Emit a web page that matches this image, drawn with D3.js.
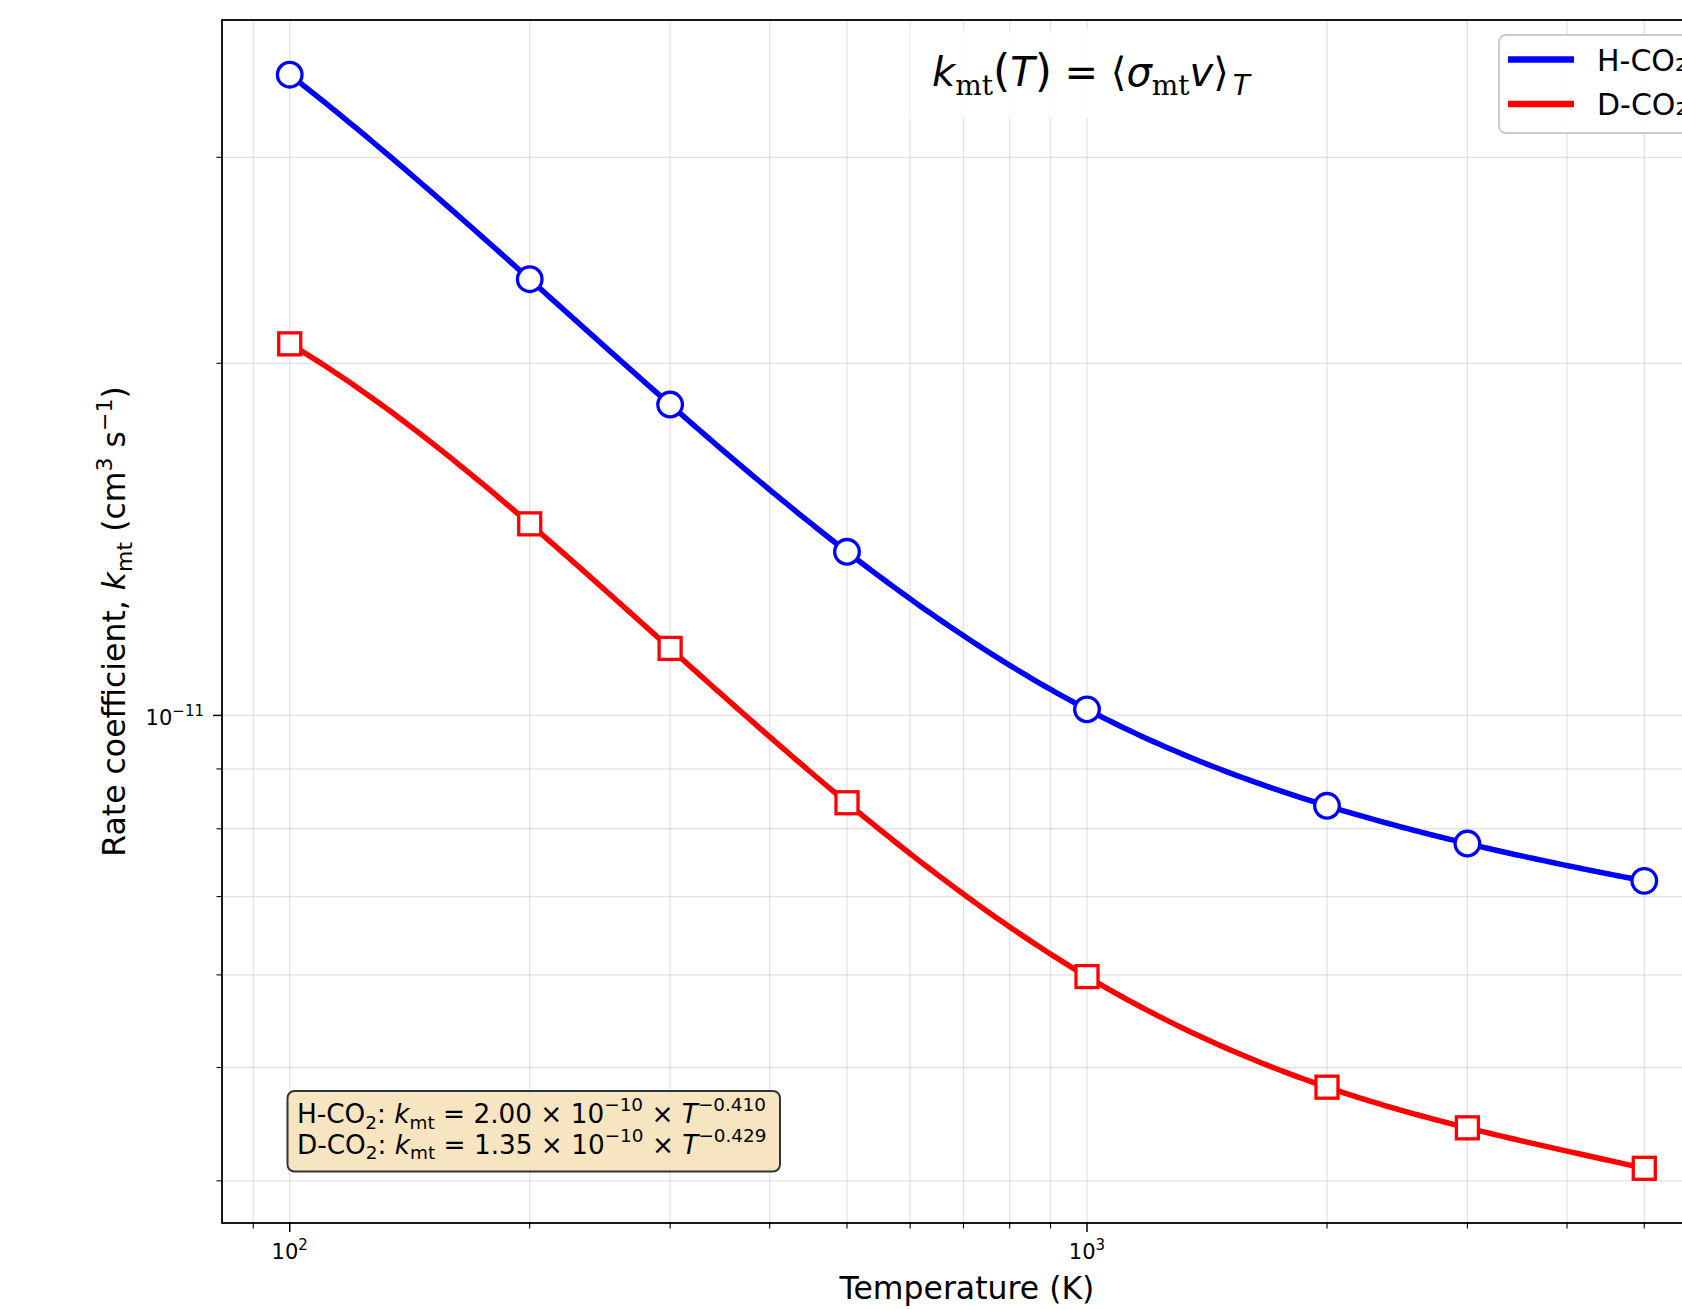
<!DOCTYPE html>
<html><head><meta charset="utf-8">
<script src="https://cdn.jsdelivr.net/npm/d3@7"></script>
<style>
html,body{margin:0;padding:0;background:#fff;overflow:hidden;}
svg{display:block;font-family:"DejaVu Sans",sans-serif;}
text{white-space:pre;}
</style></head>
<body>
<svg id="c" width="1682" height="1309"></svg>
<script>
// ---- data ----
const temps = [100, 200, 300, 500, 1000, 2000, 3000, 5000];
const kH = [3.53e-11, 2.36e-11, 1.844e-11, 1.380e-11, 1.012e-11, 8.37e-12, 7.77e-12, 7.22e-12];
const kD = [2.078e-11, 1.458e-11, 1.141e-11, 8.42e-12, 5.98e-12, 4.81e-12, 4.44e-12, 4.10e-12];
const seriesNames = ["H-CO\u2082", "D-CO\u2082"];
const seriesColors = ["#0000ff", "#ff0000"];
const xMajorTicks = [100, 1000];
const xMajorLabels = [["10", "2"], ["10", "3"]];
const xMinorTicks = [90, 200, 300, 400, 500, 600, 700, 800, 900, 2000, 3000, 4000, 5000, 6000];
const yMajorTicks = [1e-11];
const yMajorLabels = [["10", "\u221211"]];
const yMinorTicks = [4e-12, 5e-12, 6e-12, 7e-12, 8e-12, 9e-12, 2e-11, 3e-11];

// ---- layout ----
const L = 222, R = 1712, Tp = 20, B = 1223;
const svg = d3.select("#c");

function logDomain(vals) {
  const a = Math.log10(d3.min(vals)), b = Math.log10(d3.max(vals)), m = 0.05 * (b - a);
  return [Math.pow(10, a - m), Math.pow(10, b + m)];
}
const x = d3.scaleLog().domain(logDomain(temps)).range([L, R]);
const y = d3.scaleLog().domain(logDomain(kH.concat(kD))).range([B, Tp]);

// not-a-knot cubic spline in log-log space (rendering of a smooth line through the data)
function splineLogLog(xs, ys, perSeg) {
  const X = xs.map(Math.log10), Y = ys.map(Math.log10), n = X.length;
  const h = d3.range(n - 1).map(i => X[i + 1] - X[i]);
  const A = d3.range(n).map(() => new Array(n).fill(0)), b = new Array(n).fill(0);
  A[0][0] = -h[1]; A[0][1] = h[0] + h[1]; A[0][2] = -h[0];
  for (let i = 1; i < n - 1; i++) {
    A[i][i - 1] = h[i - 1]; A[i][i] = 2 * (h[i - 1] + h[i]); A[i][i + 1] = h[i];
    b[i] = 6 * ((Y[i + 1] - Y[i]) / h[i] - (Y[i] - Y[i - 1]) / h[i - 1]);
  }
  A[n - 1][n - 3] = -h[n - 2]; A[n - 1][n - 2] = h[n - 2] + h[n - 3]; A[n - 1][n - 1] = -h[n - 3];
  // gaussian elimination
  for (let c = 0; c < n; c++) {
    let p = c;
    for (let r = c + 1; r < n; r++) if (Math.abs(A[r][c]) > Math.abs(A[p][c])) p = r;
    [A[c], A[p]] = [A[p], A[c]]; [b[c], b[p]] = [b[p], b[c]];
    for (let r = c + 1; r < n; r++) {
      const f = A[r][c] / A[c][c];
      for (let k = c; k < n; k++) A[r][k] -= f * A[c][k];
      b[r] -= f * b[c];
    }
  }
  const M = new Array(n).fill(0);
  for (let r = n - 1; r >= 0; r--) {
    let s = b[r];
    for (let k = r + 1; k < n; k++) s -= A[r][k] * M[k];
    M[r] = s / A[r][r];
  }
  const out = [];
  for (let i = 0; i < n - 1; i++) {
    for (let j = 0; j < perSeg; j++) {
      const u = X[i] + h[i] * j / perSeg;
      const a1 = X[i + 1] - u, a2 = u - X[i];
      const s = M[i] * a1 * a1 * a1 / (6 * h[i]) + M[i + 1] * a2 * a2 * a2 / (6 * h[i])
        + (Y[i] / h[i] - M[i] * h[i] / 6) * a1 + (Y[i + 1] / h[i] - M[i + 1] * h[i] / 6) * a2;
      out.push([Math.pow(10, u), Math.pow(10, s)]);
    }
  }
  out.push([xs[n - 1], ys[n - 1]]);
  return out;
}

// rich text helper
function rich(sel, parts, base, supShift) {
  let cur = 0;
  parts.forEach(p => {
    const small = p.sub || p.sup;
    const size = base * (small ? 0.7 : 1);
    const off = p.sub ? 0.22 * base : (p.sup ? -(supShift || 0.40) * base : 0);
    const ts = sel.append("tspan").text(p.t).attr("font-size", p.fs || size).attr("dy", off - cur);
    if (p.it) ts.attr("font-style", "italic");
    if (p.serif) ts.attr("font-family", "DejaVu Serif");
    if (p.dx) ts.attr("dx", p.dx);
    cur = off;
  });
}

// ---- grid ----
const gGrid = svg.append("g");
xMajorTicks.concat(xMinorTicks).forEach(t => {
  const px = x(t);
  if (px < L || px > R) return;
  gGrid.append("line").attr("x1", px).attr("x2", px).attr("y1", Tp).attr("y2", B)
    .attr("stroke", "#b0b0b0").attr("stroke-opacity", 0.35).attr("stroke-width", 1.3);
});
yMajorTicks.concat(yMinorTicks).forEach(t => {
  const py = y(t);
  gGrid.append("line").attr("x1", L).attr("x2", R).attr("y1", py).attr("y2", py)
    .attr("stroke", "#b0b0b0").attr("stroke-opacity", 0.35).attr("stroke-width", 1.3);
});

// ---- title formula box ----
svg.append("rect").attr("x", 910).attr("y", 30).attr("width", 360).attr("height", 88)
  .attr("fill", "#fff").attr("fill-opacity", 0.85);
const title = svg.append("text").attr("x", 1091).attr("y", 86).attr("text-anchor", "middle").attr("fill", "#000");
rich(title, [
  {t: "k", it: true}, {t: "mt", sub: true, serif: true}, {t: "(", fs: 44}, {t: "T", it: true}, {t: ")", fs: 44},
  {t: " = "}, {t: "\u27e8"}, {t: "\u03c3", it: true}, {t: "mt", sub: true, serif: true},
  {t: "v", it: true}, {t: "\u27e9"}, {t: "T", sub: true, it: true, dx: 4}
], 40);

// ---- series ----
const line = d3.line().x(d => x(d[0])).y(d => y(d[1]));
const data = [temps.map((t, i) => [t, kH[i]]), temps.map((t, i) => [t, kD[i]])];
[kH, kD].forEach((ks, si) => {
  svg.append("path").attr("d", line(splineLogLog(temps, ks, 40))).attr("fill", "none")
    .attr("stroke", seriesColors[si]).attr("stroke-width", 5.5).attr("stroke-linejoin", "round");
});
// markers
svg.append("g").selectAll("circle").data(data[0]).join("circle")
  .attr("cx", d => x(d[0])).attr("cy", d => y(d[1])).attr("r", 12.3)
  .attr("fill", "#fff").attr("stroke", seriesColors[0]).attr("stroke-width", 3.3);
svg.append("g").selectAll("rect").data(data[1]).join("rect")
  .attr("x", d => x(d[0]) - 11).attr("y", d => y(d[1]) - 11).attr("width", 22).attr("height", 22)
  .attr("fill", "#fff").attr("stroke", seriesColors[1]).attr("stroke-width", 3.3);

// ---- axes frame ----
svg.append("rect").attr("x", L).attr("y", Tp).attr("width", R - L).attr("height", B - Tp)
  .attr("fill", "none").attr("stroke", "#000").attr("stroke-width", 1.8);

// ticks
xMajorTicks.forEach((t, i) => {
  const px = x(t);
  svg.append("line").attr("x1", px).attr("x2", px).attr("y1", B).attr("y2", B + 9).attr("stroke", "#000").attr("stroke-width", 1.5);
  const tx = svg.append("text").attr("x", px).attr("y", 1259).attr("text-anchor", "middle").attr("font-size", 21);
  tx.append("tspan").text(xMajorLabels[i][0]);
  tx.append("tspan").text(xMajorLabels[i][1]).attr("font-size", 15).attr("dy", -9);
});
xMinorTicks.forEach(t => {
  const px = x(t);
  if (px < L || px > R) return;
  svg.append("line").attr("x1", px).attr("x2", px).attr("y1", B).attr("y2", B + 5.5).attr("stroke", "#000").attr("stroke-width", 1.1);
});
yMajorTicks.forEach((t, i) => {
  const py = y(t);
  svg.append("line").attr("x1", L - 9).attr("x2", L).attr("y1", py).attr("y2", py).attr("stroke", "#000").attr("stroke-width", 1.5);
  const tx = svg.append("text").attr("x", 204).attr("y", py + 10).attr("text-anchor", "end").attr("font-size", 21);
  tx.append("tspan").text(yMajorLabels[i][0]);
  tx.append("tspan").text(yMajorLabels[i][1]).attr("font-size", 15).attr("dy", -9);
});
yMinorTicks.forEach(t => {
  const py = y(t);
  svg.append("line").attr("x1", L - 5.5).attr("x2", L).attr("y1", py).attr("y2", py).attr("stroke", "#000").attr("stroke-width", 1.1);
});

// axis labels
svg.append("text").attr("x", (L + R) / 2).attr("y", 1299).attr("text-anchor", "middle")
  .attr("font-size", 31.5).text("Temperature (K)");
const yl = svg.append("text").attr("transform", `translate(125,${(Tp + B) / 2}) rotate(-90)`)
  .attr("text-anchor", "middle");
rich(yl, [
  {t: "Rate coefficient, "}, {t: "k", it: true}, {t: "mt", sub: true}, {t: " (cm"}, {t: "3", sup: true},
  {t: " s"}, {t: "\u22121", sup: true}, {t: ")"}
], 31.5);

// ---- legend ----
svg.append("rect").attr("x", 1499).attr("y", 35).attr("width", 240).attr("height", 98).attr("rx", 7)
  .attr("fill", "#fff").attr("fill-opacity", 0.9).attr("stroke", "#cccccc").attr("stroke-width", 2);
[59.5, 104].forEach((ly, i) => {
  svg.append("line").attr("x1", 1508).attr("x2", 1574).attr("y1", ly).attr("y2", ly)
    .attr("stroke", seriesColors[i]).attr("stroke-width", 6.5);
  svg.append("text").attr("x", 1597).attr("y", ly + 11).attr("font-size", 30).text(seriesNames[i]);
});

// ---- fit annotation ----
svg.append("rect").attr("x", 287.5).attr("y", 1091).attr("width", 492.5).attr("height", 80.5).attr("rx", 7)
  .attr("fill", "#f5deb3").attr("fill-opacity", 0.8).attr("stroke", "#333").attr("stroke-width", 2);
const fits = [["H", "2.00", "0.410"], ["D", "1.35", "0.429"]];
fits.forEach((f, i) => {
  const t = svg.append("text").attr("x", 297).attr("y", 1123 + i * 30.7);
  rich(t, [
    {t: f[0] + "-CO"}, {t: "2", sub: true}, {t: ": "}, {t: "k", it: true}, {t: "mt", sub: true},
    {t: " = " + f[1] + " \u00d7 10"}, {t: "\u221210", sup: true}, {t: " \u00d7 "}, {t: "T", it: true},
    {t: "\u2212" + f[2], sup: true}
  ], 26.3, 0.45);
});
</script>
</body></html>
